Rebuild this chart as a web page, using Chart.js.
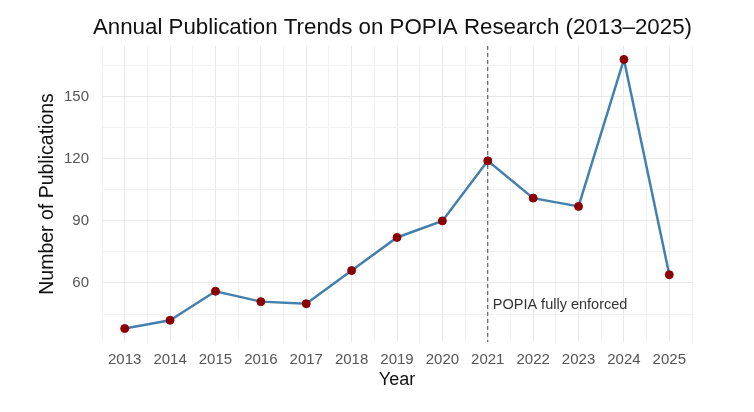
<!DOCTYPE html>
<html>
<head>
<meta charset="utf-8">
<script src="https://cdn.jsdelivr.net/npm/chart.js@4.4.1/dist/chart.umd.min.js"></script>
<style>
  html, body { margin: 0; padding: 0; background: #fff; }
  #wrap { width: 754px; height: 412px; }
</style>
</head>
<body>
<div id="wrap"><canvas id="line-chartcanvas"></canvas></div>
<script>
// publications per year
var years = [2013, 2014, 2015, 2016, 2017, 2018, 2019, 2020, 2021, 2022, 2023, 2024, 2025];
var publications = [38, 42, 56, 51, 50, 66, 82, 90, 119, 101, 97, 168, 64];

// axis ticks (major ones get a label, the rest are minor grid lines)
var yTicks = [45, 60, 75, 90, 105, 120, 135, 150, 165];
var yLabels = [60, 90, 120, 150];
var xTicks = [];
for (var t = 2012.5; t <= 2025.5; t += 0.5) xTicks.push(t);

// enforcement marker
var eventYear = 2021;
var eventText = "POPIA fully enforced";
var eventTextY = 49.5;

var points = [];
for (var i = 0; i < years.length; i++) {
  points.push({ x: years[i], y: publications[i] });
}

var font = "'Liberation Sans', Arial, sans-serif";

// dashed vertical line + label at the enforcement year
var eventLine = {
  id: "eventLine",
  beforeDatasetsDraw: function(chart) {
    var ctx = chart.ctx;
    var area = chart.chartArea;
    var x = chart.scales.x.getPixelForValue(eventYear);
    ctx.save();
    ctx.strokeStyle = "#444";
    ctx.lineWidth = 1;
    ctx.setLineDash([4, 3]);
    ctx.beginPath();
    ctx.moveTo(x, area.top);
    ctx.lineTo(x, area.bottom);
    ctx.stroke();
    ctx.setLineDash([]);
    ctx.fillStyle = "#333";
    ctx.font = "14.5px " + font;
    ctx.textAlign = "left";
    ctx.textBaseline = "middle";
    ctx.fillText(eventText, x + 5, chart.scales.y.getPixelForValue(eventTextY));
    ctx.restore();
  }
};

var ctx = document.getElementById("line-chartcanvas");

var data = {
  datasets: [
    {
      label: "Publications",
      data: points,
      borderColor: "#4580ad",
      borderWidth: 2.5,
      backgroundColor: "#8B0000",
      pointBackgroundColor: "#8B0000",
      pointBorderColor: "#8B0000",
      pointRadius: 4,
      pointBorderWidth: 1,
      fill: false,
      tension: 0
    }
  ]
};

var options = {
  responsive: true,
  maintainAspectRatio: false,
  animation: false,
  layout: { padding: { left: 0, right: 62, top: 0, bottom: 0 } },
  plugins: {
    legend: { display: false },
    tooltip: { enabled: false },
    title: {
      display: true,
      align: "end",
      text: "Annual Publication Trends on POPIA Research (2013\u20132025)",
      color: "#111",
      font: { family: font, size: 22.3, weight: "normal" },
      padding: { top: 14.5, bottom: 4.7 }
    }
  },
  scales: {
    x: {
      type: "linear",
      min: 2012.5,
      max: 2025.5,
      afterBuildTicks: function(axis) {
        axis.ticks = xTicks.map(function(v) { return { value: v }; });
      },
      afterFit: function(axis) { axis.height = 70; },
      border: { display: false },
      grid: {
        drawTicks: false,
        color: function(c) { return Number.isInteger(c.tick.value) ? "#e8e8e8" : "#f2f2f2"; }
      },
      ticks: {
        autoSkip: false,
        maxRotation: 0,
        padding: 9,
        color: "#555",
        font: { family: font, size: 15 },
        callback: function(v) { return Number.isInteger(v) ? String(v) : ""; }
      },
      title: {
        display: true,
        text: "Year",
        color: "#111",
        font: { family: font, size: 18 },
        padding: { top: 0, bottom: 21 }
      }
    },
    y: {
      type: "linear",
      min: 31.5,
      max: 174.5,
      afterBuildTicks: function(axis) {
        axis.ticks = yTicks.map(function(v) { return { value: v }; });
      },
      afterFit: function(axis) { axis.width = 102; },
      border: { display: false },
      grid: {
        drawTicks: false,
        color: function(c) { return yLabels.indexOf(c.tick.value) >= 0 ? "#e8e8e8" : "#f2f2f2"; }
      },
      ticks: {
        padding: 13,
        color: "#555",
        font: { family: font, size: 15 },
        callback: function(v) { return yLabels.indexOf(v) >= 0 ? String(v) : ""; }
      },
      title: {
        display: true,
        text: "Number of Publications",
        color: "#111",
        font: { family: font, size: 19.5 },
        padding: { top: 36, bottom: 0 }
      }
    }
  }
};

var chart = new Chart(ctx, {
  type: "line",
  data: data,
  options: options,
  plugins: [eventLine]
});
</script>
</body>
</html>
